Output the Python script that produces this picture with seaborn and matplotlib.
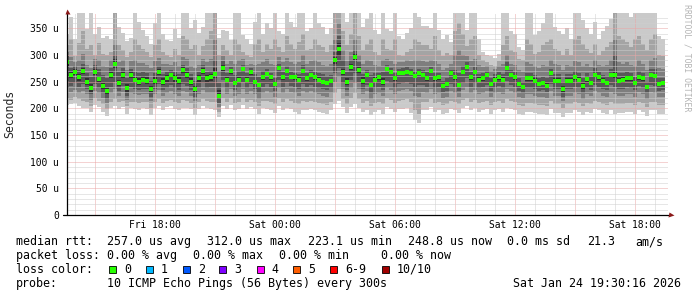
import numpy as np
import matplotlib
matplotlib.use("Agg")
import matplotlib.pyplot as plt
from matplotlib.ticker import MultipleLocator, FuncFormatter
import seaborn as sns

# ---------------- data (microseconds), 12-minute bins starting Fri 13:30 ----------------
START_HOUR = 13.5      # hours since Fri 00:00
STEP_HOURS = 0.2

median = [286,262,268,258,270,250,238,268,255,242,
          232,262,284,248,262,238,262,253,250,254,
          252,236,252,268,250,256,262,256,252,272,
          262,250,236,256,270,256,258,264,223,276,
          254,270,248,254,274,254,268,250,244,258,
          264,258,246,276,258,270,259,258,254,270,
          256,262,258,254,250,248,251,290,312,268,
          250,278,296,272,252,262,244,254,258,250,
          274,268,256,266,267,269,266,260,266,263,
          256,270,256,258,242,246,266,258,244,268,
          278,258,268,254,256,262,246,254,258,254,
          276,262,258,246,240,256,256,252,246,248,
          242,266,252,252,236,252,252,258,254,242,
          255,248,262,258,252,248,262,262,252,253,
          256,256,248,258,256,240,262,260,246,248]

ping10 = [340,372,330,378,378,348,378,340,352,332,
          335,330,378,352,342,326,332,378,362,346,
          336,320,360,378,340,328,326,348,332,378,
          378,350,366,342,352,378,378,378,332,346,
          345,328,378,378,338,330,320,362,378,340,
          360,350,378,345,340,378,362,352,378,378,
          345,350,378,360,352,340,350,378,378,378,
          362,378,378,378,352,368,378,346,340,378,
          348,345,378,335,330,342,350,378,372,355,
          355,350,378,346,330,338,325,378,378,378,
          346,378,378,330,306,300,298,294,302,378,
          378,345,340,315,310,378,378,338,345,360,
          378,378,352,345,340,350,330,378,378,366,
          350,340,362,330,345,355,368,378,378,378,
          378,372,378,378,378,378,378,378,335,330]

ping9 = [318,330,298,322,345,312,318,300,322,302,
         300,305,378,318,310,296,305,330,318,312,
         305,296,318,330,306,300,296,312,300,335,
         330,312,318,300,316,330,345,378,300,318,
         310,300,330,320,305,300,296,320,330,305,
         320,312,330,315,305,335,320,312,325,340,
         310,312,330,318,315,305,318,378,378,345,
         318,340,378,335,310,320,330,305,300,330,
         312,310,330,300,298,305,312,330,325,318,
         318,312,335,310,298,304,300,345,360,340,
         316,330,335,300,290,286,282,280,288,318,
         335,310,305,292,290,330,320,302,306,318,
         325,330,312,308,300,312,300,330,335,320,
         312,304,320,300,308,315,325,378,335,330,
         325,315,330,335,320,310,330,340,300,298]

ping8 = [306,296,286,290,302,282,276,292,290,280,
         278,290,320,286,290,272,288,290,285,285,
         282,276,288,294,284,284,282,286,280,296,
         292,280,276,282,292,286,292,330,270,298,
         284,288,284,290,292,282,284,282,284,286,
         292,284,282,296,286,294,286,284,286,300,
         284,288,290,286,282,280,284,330,360,310,
         288,306,330,300,284,290,288,282,280,290,
         292,288,284,286,286,290,288,290,290,288,
         286,290,288,284,272,276,284,300,310,300,
         298,288,292,282,278,280,270,274,280,284,
         300,284,282,272,268,286,284,280,276,282,
         280,290,284,282,272,282,280,288,286,280,
         284,278,290,282,280,282,290,330,286,284,
         286,282,280,290,284,272,290,294,276,274]

ping7 = [298,276,279,272,284,266,258,281,273,262,
         256,276,300,268,276,256,274,268,266,268,
         266,252,266,280,264,268,272,268,264,282,
         276,264,252,268,282,268,270,290,248,288,
         266,278,262,270,282,266,276,264,258,270,
         274,266,256,284,268,280,268,266,264,282,
         266,272,268,266,264,260,262,305,335,290,
         268,290,310,286,264,272,262,266,266,268,
         282,276,266,274,276,278,274,270,274,272,
         268,278,266,266,252,256,272,272,266,280,
         286,268,278,264,266,270,256,264,268,264,
         286,272,268,256,250,266,266,262,256,258,
         256,274,264,264,250,264,264,270,266,256,
         266,260,276,268,262,260,274,300,266,266,
         268,266,258,270,266,250,274,274,256,256]

ping6 = [291,268,273,264,276,256,246,273,260,248,
         238,268,292,254,268,246,268,258,256,260,
         258,242,258,274,256,262,266,262,258,278,
         268,256,242,262,276,262,264,276,234,282,
         258,274,252,258,278,258,272,254,248,262,
         268,262,250,280,262,274,263,262,258,274,
         260,266,262,258,254,252,254,296,322,274,
         256,284,302,278,258,266,250,258,262,256,
         278,272,260,270,270,272,270,264,270,266,
         260,274,260,262,246,250,270,262,250,272,
         282,262,272,258,260,266,250,258,262,258,
         280,266,262,250,244,260,260,256,250,252,
         248,270,256,256,242,256,256,262,258,248,
         260,252,266,262,256,252,266,268,256,258,
         260,260,252,262,260,244,266,264,250,252]

ping5 = [280,256,263,252,264,244,230,262,250,236,
         226,256,276,242,256,230,256,248,244,248,
         246,230,246,262,244,250,258,250,246,266,
         256,244,230,250,264,250,252,256,218,270,
         250,264,244,250,268,250,262,246,238,254,
         260,254,242,272,254,266,255,254,250,266,
         252,258,254,250,246,244,248,284,298,262,
         244,272,290,266,246,258,238,250,254,244,
         270,264,252,262,264,266,262,256,262,260,
         252,266,252,254,238,242,262,254,240,264,
         274,254,264,250,252,258,242,250,254,250,
         272,258,254,242,236,252,252,248,242,244,
         238,262,248,248,230,248,248,254,250,236,
         250,244,258,254,248,244,258,256,248,248,
         252,252,244,254,252,236,258,256,242,244]

ping4 = [252,242,248,240,246,236,226,246,238,228,
         218,240,250,232,242,224,240,236,234,236,
         236,222,236,246,234,238,244,238,234,246,
         242,234,222,238,248,238,240,240,210,254,
         238,250,234,238,250,238,246,236,228,240,
         246,240,232,254,240,250,242,240,236,246,
         240,244,240,238,236,234,238,266,276,248,
         234,254,266,250,236,244,228,238,240,234,
         252,248,238,246,248,250,246,240,244,244,
         240,250,238,240,230,232,246,240,232,248,
         256,240,248,238,240,244,232,238,242,238,
         252,244,240,232,228,238,238,236,232,234,
         230,246,236,236,222,236,236,240,238,228,
         238,234,244,240,236,234,244,240,236,236,
         240,238,234,242,238,228,244,242,232,234]

ping3 = [238,230,234,229,232,226,216,233,228,220,
         210,228,236,224,230,216,228,226,225,226,
         226,214,226,234,224,228,232,226,224,232,
         230,224,214,226,234,228,228,228,202,238,
         226,236,224,226,236,226,232,226,218,228,
         232,228,222,238,228,236,230,228,224,232,
         228,232,228,226,224,222,228,250,258,236,
         224,238,248,236,226,232,218,226,228,224,
         238,234,226,232,234,236,232,224,222,230,
         228,236,226,228,220,222,232,228,222,234,
         240,228,234,226,228,232,222,228,230,226,
         236,232,228,222,220,226,226,224,222,222,
         220,232,224,224,214,224,224,228,226,218,
         226,224,232,228,224,222,230,226,224,224,
         226,226,222,230,226,218,230,228,222,222]

ping2 = [220,216,222,217,214,212,204,219,214,208,
         198,212,218,212,214,204,212,212,210,212,
         212,200,212,218,210,214,216,212,210,216,
         214,210,200,212,218,214,212,212,194,220,
         212,220,210,212,220,212,216,212,204,214,
         214,212,208,220,212,218,214,210,208,214,
         212,214,212,210,208,206,212,228,236,218,
         208,220,228,218,210,214,204,210,212,208,
         220,216,210,214,216,218,212,196,190,212,
         212,218,210,212,206,208,214,212,208,216,
         220,212,216,210,212,214,206,212,214,210,
         218,214,212,206,204,210,210,208,206,206,
         204,214,208,208,200,208,208,212,210,204,
         210,208,214,212,208,206,212,208,208,208,
         210,210,206,212,210,202,212,212,206,206]

ping1 = [206,208,210,204,200,201,194,206,202,193,
         186,200,204,198,202,190,200,198,196,200,
         198,188,200,204,196,202,204,198,196,200,
         200,198,188,198,204,200,198,196,184,204,
         198,206,196,198,206,198,202,198,190,200,
         198,196,192,204,196,200,198,194,190,196,
         196,198,196,194,192,190,196,208,214,202,
         192,202,208,200,194,196,188,194,196,190,
         202,198,194,198,198,200,192,178,172,196,
         196,202,194,196,190,192,198,196,192,200,
         204,196,200,194,196,198,190,196,198,194,
         200,198,196,190,188,194,194,192,190,190,
         188,198,192,192,184,192,192,196,194,188,
         194,192,198,196,192,190,196,190,192,192,
         194,194,190,196,194,186,196,196,190,190]

x_tick_hours = [18, 24, 30, 36, 42]
x_tick_labels = ["Fri 18:00", "Sat 00:00", "Sat 06:00", "Sat 12:00", "Sat 18:00"]
y_ticks = [0, 50, 100, 150, 200, 250, 300, 350]
y_tick_labels = ["0", "50 u", "100 u", "150 u", "200 u", "250 u", "300 u", "350 u"]

loss_labels = ["0", "1", "2", "3", "4", "5", "6-9", "10/10"]
loss_colors = ["#26ff00", "#00b8ff", "#0059ff", "#7e00ff", "#ff00ff", "#ff5e00", "#ff0000", "#a10000"]

# ---------------- figure ----------------
sns.set_style("white")
plt.rcParams["font.family"] = ["DejaVu Sans Mono"]

W, H = 697, 297
fig = plt.figure(figsize=(W / 100, H / 100), dpi=100, facecolor="white")
ax = fig.add_axes([67 / W, 82 / H, 601 / W, (215 - 13.4) / H])
ax.set_xlim(13.585, 43.635)
ax.set_ylim(0, 378)
for s in ax.spines.values():
    s.set_visible(False)

n = len(median)
edges = START_HOUR + STEP_HOURS * np.arange(n + 1)
centers = START_HOUR + STEP_HOURS * (np.arange(n) + 0.5)

def ext(a):
    a = np.asarray(a, dtype=float)
    return np.append(a, a[-1])

layers = [(ping1, ping10, "#cacaca"), (ping2, ping9, "#a4a4a4"),
          (ping3, ping8, "#7e7e7e"), (ping4, ping7, "#585858"),
          (ping5, ping6, "#323232")]
for lo, hi, col in layers:
    ax.fill_between(edges, ext(lo), ext(hi), step="post", color=col, lw=0, zorder=1)

sns.scatterplot(x=centers, y=median, marker="s", s=5.5, color="#26ff00",
                linewidth=0, ax=ax, zorder=4, legend=False)

# grid
ax.xaxis.set_major_locator(MultipleLocator(3))
ax.xaxis.set_minor_locator(MultipleLocator(1))
ax.yaxis.set_major_locator(MultipleLocator(50))
ax.yaxis.set_minor_locator(MultipleLocator(10))
ax.set_axisbelow(False)
ax.grid(which="minor", color="#cfcfcf", lw=0.72, ls=(0, (1, 1)))
ax.grid(which="major", color="#eaa6a6", lw=0.72, ls=(0, (1, 1)))

xlab = dict(zip(x_tick_hours, x_tick_labels))
ax.xaxis.set_major_formatter(FuncFormatter(lambda v, p: xlab.get(int(round(v)), "")))
ylab = dict(zip(y_ticks, y_tick_labels))
ax.yaxis.set_major_formatter(FuncFormatter(lambda v, p: ylab.get(int(round(v)), "")))
ax.tick_params(axis="x", which="major", length=1.5, width=0.72, color="#e09090",
               direction="out", pad=2.4, labelsize=6.9, labelcolor="#000000")
ax.tick_params(axis="y", which="major", length=0, pad=5.8, labelsize=6.9, labelcolor="#000000")
ax.tick_params(which="minor", length=0)
ax.set_ylabel("Seconds", fontsize=8.3)
ax.yaxis.set_label_coords(-51 / 601, 0.5)

# axis lines + arrows
ax.plot([-4 / 601, 1.004], [0, 0], color="black", lw=0.9, clip_on=False, zorder=10,
        transform=ax.transAxes)
ax.plot([0, 0], [0, 1.008], color="black", lw=0.9, clip_on=False, zorder=10,
        transform=ax.transAxes)
ax.plot([1.0045], [0], marker=">", ms=3.6, color="#8b1a1a", clip_on=False, zorder=11,
        transform=ax.transAxes, mec="none")
ax.plot([0], [1.012], marker="^", ms=3.6, color="#8b1a1a", clip_on=False, zorder=11,
        transform=ax.transAxes, mec="none")

# watermark
fig.text(686.7 / W, 1 - 4.5 / H, "RRDTOOL / TOBI OETIKER", rotation=270, ha="center",
         va="top", fontsize=5.9, color="#b4b4b4")

# legend text
FS = 8.4
def ftext(x, y, s, **kw):
    fig.text(x / W, 1 - y / H, s, fontsize=FS, va="center", ha="left", color="black", **kw)

row1 = [(16, "median rtt:"), (107.3, "257.0 us avg"), (207.3, "312.0 us max"),
        (308.3, "223.1 us min"), (407.7, "248.8 us now"), (506.7, "0.0 ms sd"),
        (586.7, "21.3"), (635, "am/s")]
row2 = [(16, "packet loss:"), (107.3, "0.00 % avg"), (193.3, "0.00 % max"),
        (279.3, "0.00 % min"), (380.7, "0.00 % now")]
row4 = [(16, "probe:"), (107.3, "10 ICMP Echo Pings (56 Bytes) every 300s"),
        (513.3, "Sat Jan 24 19:30:16 2026")]
for x, s in row1:
    ftext(x, 241.7, s)
for x, s in row2:
    ftext(x, 255.5, s)
for x, s in row4:
    ftext(x, 283.3, s)
ftext(16, 269.3, "loss color:")

box_x = [109, 146, 182.7, 219.3, 256.7, 293.3, 330, 381.7]
for bx, lab, col in zip(box_x, loss_labels, loss_colors):
    fig.patches.append(matplotlib.patches.Rectangle(
        (bx / W, 1 - 272.7 / H), 7 / W, 7 / H, transform=fig.transFigure,
        facecolor=col, edgecolor="black", lw=0.6))
    ftext(bx + 15, 269.3, lab)

fig.savefig("out.png", dpi=100, facecolor="white")
